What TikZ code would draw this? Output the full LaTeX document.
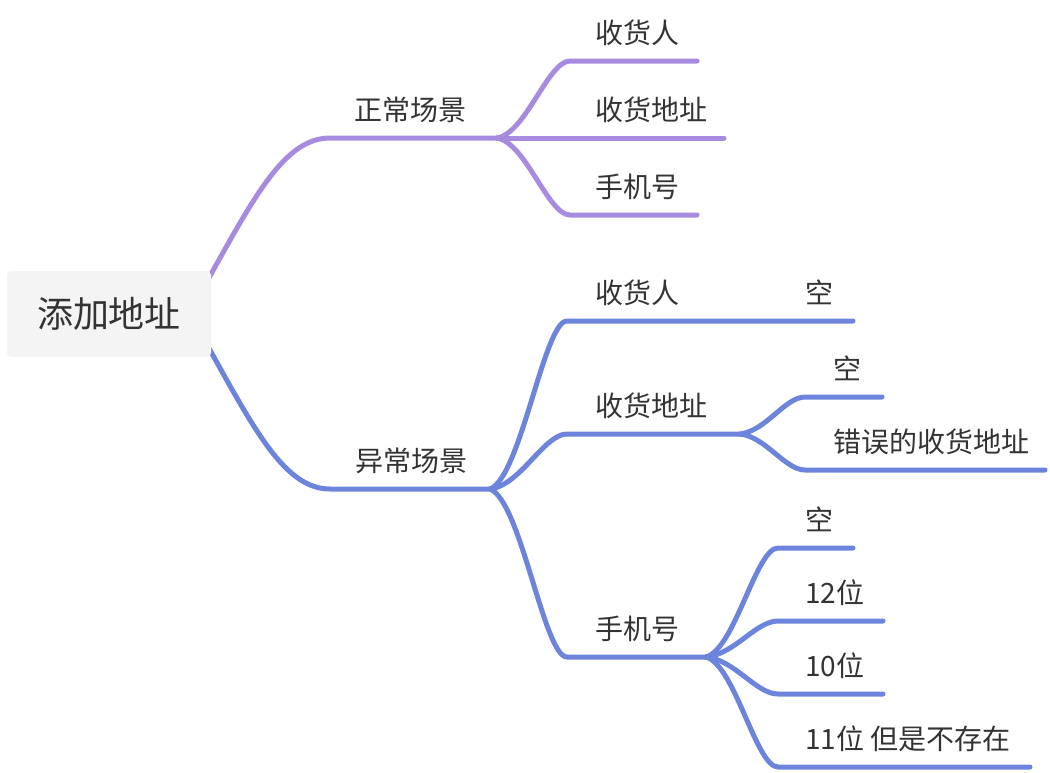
\documentclass[tikz,border=0pt]{standalone}
\usepackage{fontspec}
\setmainfont{Noto Sans CJK SC}
\definecolor{cp}{HTML}{A78BE0}
\definecolor{cb}{HTML}{6C84DC}
\definecolor{txt}{HTML}{333333}
\definecolor{rootfill}{HTML}{F4F4F4}
\begin{document}
\begin{tikzpicture}[x=1pt,y=-1pt,
  lbl/.style={anchor=base west, inner sep=0pt, font=\fontsize{28}{28}\selectfont, text=txt},
  rootbox/.style={fill=rootfill, rounded corners=4pt, minimum width=204pt, minimum height=86pt, inner sep=0pt, font=\fontsize{36}{36}\selectfont, text=txt},
  purp/.style={draw=cp, line width=5pt, line cap=round},
  blu/.style={draw=cb, line width=5pt, line cap=round}]
\useasboundingbox (0,0) rectangle (1050,772);

% coordinates
\coordinate (rp) at (205,285);
\coordinate (rb) at (205,341);
\coordinate (p0) at (330,138);
\coordinate (J1) at (497,138);
\coordinate (p1s) at (570,61);  \coordinate (p1e) at (697,61);
\coordinate (p2e) at (724,138);
\coordinate (p3s) at (570,215); \coordinate (p3e) at (697,215);
\coordinate (b0) at (330,489);
\coordinate (J2) at (490,489);
\coordinate (b1s) at (567,321); \coordinate (b1e) at (853,321);
\coordinate (b2s) at (567,434); \coordinate (J3) at (740,434);
\coordinate (b21s) at (805,397); \coordinate (b21e) at (882,397);
\coordinate (b22s) at (805,470); \coordinate (b22e) at (1045,470);
\coordinate (b3s) at (567,657); \coordinate (J4) at (706,657);
\coordinate (b31s) at (778,548); \coordinate (b31e) at (853,548);
\coordinate (b32s) at (778,621); \coordinate (b32e) at (883,621);
\coordinate (b33s) at (778,694); \coordinate (b33e) at (883,694);
\coordinate (b34s) at (778,767); \coordinate (b34e) at (1030,767);

% purple branch
\draw[purp] (rp) .. controls +(50,-90) and +(-45,0) .. (p0) -- (J1);
\draw[purp] (J1) .. controls +(29,-5) and +(-22,0) .. (p1s) -- (p1e);
\draw[purp] (J1) -- (p2e);
\draw[purp] (J1) .. controls +(29,5) and +(-22,0) .. (p3s) -- (p3e);

% blue branch
\draw[blu] (rb) .. controls +(50,90) and +(-45,0) .. (b0) -- (J2);
\draw[blu] (J2) .. controls +(31,-12) and +(-23,0) .. (b1s) -- (b1e);
\draw[blu] (J2) .. controls +(31,-4) and +(-23,0) .. (b2s) -- (J3);
\draw[blu] (J3) .. controls +(26,-3) and +(-20,0) .. (b21s) -- (b21e);
\draw[blu] (J3) .. controls +(26,3) and +(-20,0) .. (b22s) -- (b22e);
\draw[blu] (J2) .. controls +(31,12) and +(-23,0) .. (b3s) -- (J4);
\draw[blu] (J4) .. controls +(29,-8) and +(-22,0) .. (b31s) -- (b31e);
\draw[blu] (J4) .. controls +(29,-3) and +(-22,0) .. (b32s) -- (b32e);
\draw[blu] (J4) .. controls +(29,3) and +(-22,0) .. (b33s) -- (b33e);
\draw[blu] (J4) .. controls +(29,8) and +(-22,0) .. (b34s) -- (b34e);

% root
\node[rootbox] (root) at (109,314) {添加地址};

% labels
\node[lbl] (n1) at (354,120) {正常场景};
\node[lbl] (n11) at (595,43) {收货人};
\node[lbl] (n12) at (595,120) {收货地址};
\node[lbl] (n13) at (595,197) {手机号};
\node[lbl] (n2) at (355,471) {异常场景};
\node[lbl] (n21) at (595,303) {收货人};
\node[lbl] (n211) at (805,303) {空};
\node[lbl] (n22) at (595,416) {收货地址};
\node[lbl] (n221) at (833,379) {空};
\node[lbl] (n222) at (833,452) {错误的收货地址};
\node[lbl] (n23) at (595,639) {手机号};
\node[lbl] (n231) at (805,530) {空};
\node[lbl] (n232) at (805,603) {12位};
\node[lbl] (n233) at (805,676) {10位};
\node[lbl] (n234) at (805,749) {11位 但是不存在};
\end{tikzpicture}
\end{document}
